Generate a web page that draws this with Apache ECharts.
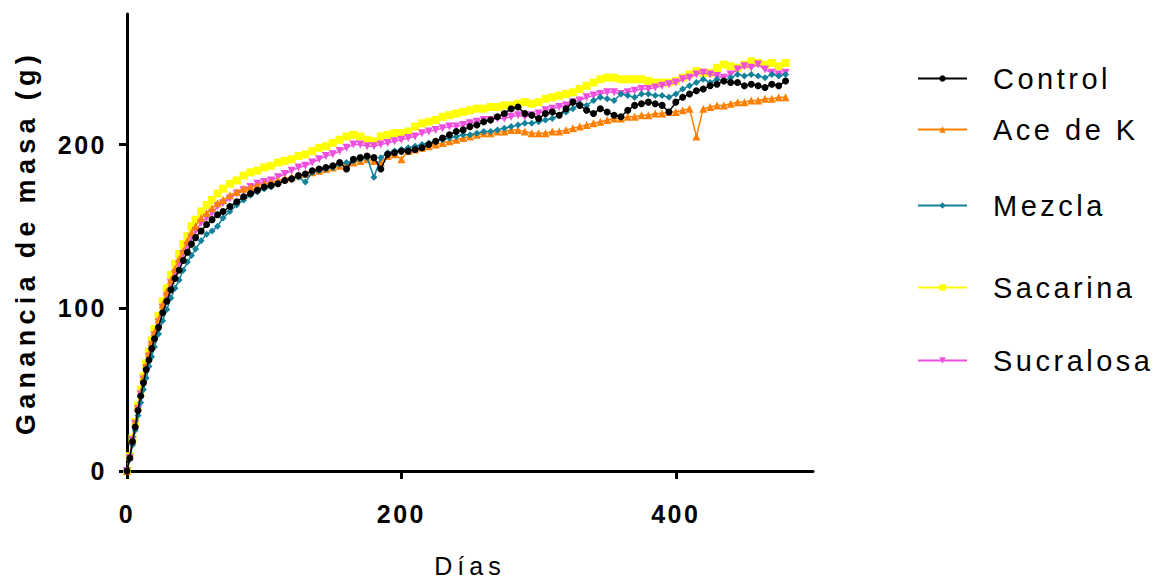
<!DOCTYPE html>
<html><head><meta charset="utf-8">
<script src="https://cdn.jsdelivr.net/npm/echarts@6/dist/echarts.min.js"></script>
<style>html,body{margin:0;padding:0;background:#fff}#chart{width:1167px;height:583px}</style>
</head><body><div id="chart"></div>
<script>
const days = [0,2,4,6,8,10,12,14,16,18,20,23,26,29,32,35,38,41,44,47,50,54,58,62,66,70,
75,80,85,90,95,100,105,110,115,120,125,130,135,140,145,150,155,160,165,170,175,180,185,190,195,200,
205,210,215,220,225,230,235,240,245,250,255,260,265,270,275,280,285,290,295,300,
305,310,315,320,325,330,335,340,345,350,355,360,365,370,375,380,385,390,395,400,
405,410,415,420,425,430,435,440,445,450,455,460,465,470,475,480];

const control = [0,8,18,27,37,46,54,62,68,75,81,88,97,104,111,118,123,129,134,139,143,147,151,154,157,159,
162,165,168,170,172,174,175,176,178,179,181,182,184,185,186,187,189,185,191,192,193,192,185,194,195,196,
196,197,198,200,202,204,206,208,209,211,212,214,215,217,219,222,223,219,218,216,
219,220,218,222,226,224,221,219,222,220,218,217,221,224,225,226,225,224,220,226,
229,231,233,234,236,237,239,238,238,236,237,236,235,237,236,239];

const aceK = [0,9,19,29,39,48,57,65,72,79,85,93,102,110,117,124,130,135,141,146,150,155,158,161,164,166,
169,171,173,174,175,176,177,178,179,180,181,182,183,184,185,186,187,188,189,190,191,190,189,193,194,191,
196,197,198,199,200,201,202,203,204,205,206,207,207,208,208,209,209,208,207,207,
207,208,208,209,210,211,212,213,214,215,216,216,217,217,218,218,219,219,220,220,
221,222,205,222,223,224,224,225,226,226,227,227,228,228,229,229];

const mezcla = [0,7,16,25,34,42,50,57,64,70,76,84,92,99,106,112,117,123,128,132,136,141,145,147,150,155,
159,163,166,169,171,173,174,176,178,179,180,177,183,184,185,186,188,189,190,191,192,180,192,195,196,197,
198,199,200,201,202,203,204,205,206,206,207,208,208,209,210,211,212,213,213,214,
215,216,218,220,222,225,224,227,229,228,227,231,230,229,231,231,230,230,229,231,
234,236,238,240,238,240,239,241,243,242,243,242,241,243,242,243];

const sacarina = [0,9,20,30,40,50,58,66,73,80,87,95,104,112,120,127,133,139,144,150,154,159,163,166,170,173,
176,178,181,183,184,186,187,189,190,191,193,194,196,198,199,201,203,205,206,205,203,202,205,206,207,207,
208,211,213,214,215,217,218,219,220,221,222,222,223,223,224,224,225,226,225,226,
228,229,230,231,232,234,236,238,240,241,241,240,240,240,240,239,238,238,238,239,
241,243,245,244,244,247,249,248,247,249,251,250,249,250,248,250];

const sucralosa = [0,8,19,29,38,47,56,63,70,77,83,91,100,107,115,121,127,133,138,143,147,152,155,158,162,164,
167,170,172,174,176,177,178,180,182,184,186,187,189,191,193,194,196,198,200,200,199,199,200,201,202,203,
204,205,207,208,209,210,211,211,212,213,214,215,215,216,216,217,218,217,218,219,
221,222,223,224,226,227,229,230,231,232,232,231,232,233,234,234,235,236,237,238,
240,241,243,244,243,242,241,243,246,248,247,249,246,244,243,244];

const xTicks = [0, 200, 400];
const yTicks = [0, 100, 200];
const xTitle = 'Días';
const yTitle = 'Ganancia de masa (g)';

const seriesDefs = [
  {name:'Control',   vals:control,   color:'#000000', symbol:'circle',   size:7, rot:0,   z:6},
  {name:'Ace de K',  vals:aceK,      color:'#FF8000', symbol:'triangle', size:8, rot:0,   z:4},
  {name:'Mezcla',    vals:mezcla,    color:'#13829B', symbol:'diamond',  size:7, rot:0,   z:5},
  {name:'Sacarina',  vals:sacarina,  color:'#FFFF00', symbol:'rect',     size:8, rot:0,   z:2},
  {name:'Sucralosa', vals:sucralosa, color:'#EE4FDC', symbol:'triangle', size:8, rot:180, z:3}
];
const legendTops = [59, 110, 186, 268, 341];
const FONT = "'Liberation Sans', Arial, sans-serif";

const chart = echarts.init(document.getElementById('chart'), null, {renderer:'svg'});

const option = {
  animation: false,
  backgroundColor: '#fff',
  grid: {left:127, right:354, top:14, bottom:112, containLabel:false, outerBoundsMode:'none'},
  xAxis: {
    type:'value', min:0, max:500,
    name: xTitle, nameLocation:'middle', nameGap:82,
    nameTextStyle:{fontSize:25, color:'#000', fontFamily:FONT},
    axisLine:{show:true, onZero:false, lineStyle:{color:'#000', width:3}},
    axisTick:{show:true, length:8, lineStyle:{color:'#000', width:3}, customValues:xTicks},
    axisLabel:{customValues:xTicks, fontSize:25, fontWeight:'bold', color:'#000', margin:30, fontFamily:FONT},
    splitLine:{show:false}
  },
  yAxis: {
    type:'value', min:0, max:280,
    name: yTitle, nameLocation:'middle', nameRotate:90, nameGap:88,
    nameTextStyle:{fontSize:27, fontWeight:'bold', color:'#000', fontFamily:FONT},
    axisLine:{show:true, onZero:false, lineStyle:{color:'#000', width:3}},
    axisTick:{show:true, length:8, lineStyle:{color:'#000', width:3}, customValues:yTicks},
    axisLabel:{customValues:yTicks, fontSize:25, fontWeight:'bold', color:'#000', margin:20, fontFamily:FONT},
    splitLine:{show:false}
  },
  legend: seriesDefs.map((s, i) => ({
    data:[s.name], left:912, top:legendTops[i], orient:'vertical',
    itemWidth:49, itemHeight:8, itemGap:0, selectedMode:false,
    textStyle:{fontSize:29, color:'#000', fontFamily:FONT, padding:[0,0,0,21]}
  })),
  series: seriesDefs.map(s => ({
    name:s.name, type:'line', z:s.z,
    data: days.map((d, i) => [d, s.vals[i]]),
    symbol:s.symbol, symbolSize:s.size, symbolRotate:s.rot, showSymbol:true,
    lineStyle:{color:s.color, width:1.5},
    itemStyle:{color:s.color},
    emphasis:{disabled:true}
  }))
};
chart.setOption(option);

const spacing = {tick:'2.5px', legend:'3.5px', xTitle:'5px', yTitle:'5.3px'};
function applySpacing(){
  const legendNames = seriesDefs.map(s => s.name);
  document.querySelectorAll('#chart svg text').forEach(t => {
    const s = t.textContent;
    if (s === yTitle) t.style.letterSpacing = spacing.yTitle;
    else if (s === xTitle) t.style.letterSpacing = spacing.xTitle;
    else if (legendNames.includes(s)) t.style.letterSpacing = spacing.legend;
    else if (/^\d+$/.test(s)) t.style.letterSpacing = spacing.tick;
  });
}
chart.on('finished', applySpacing);
applySpacing();
setTimeout(applySpacing, 50);
setTimeout(applySpacing, 300);
</script></body></html>
